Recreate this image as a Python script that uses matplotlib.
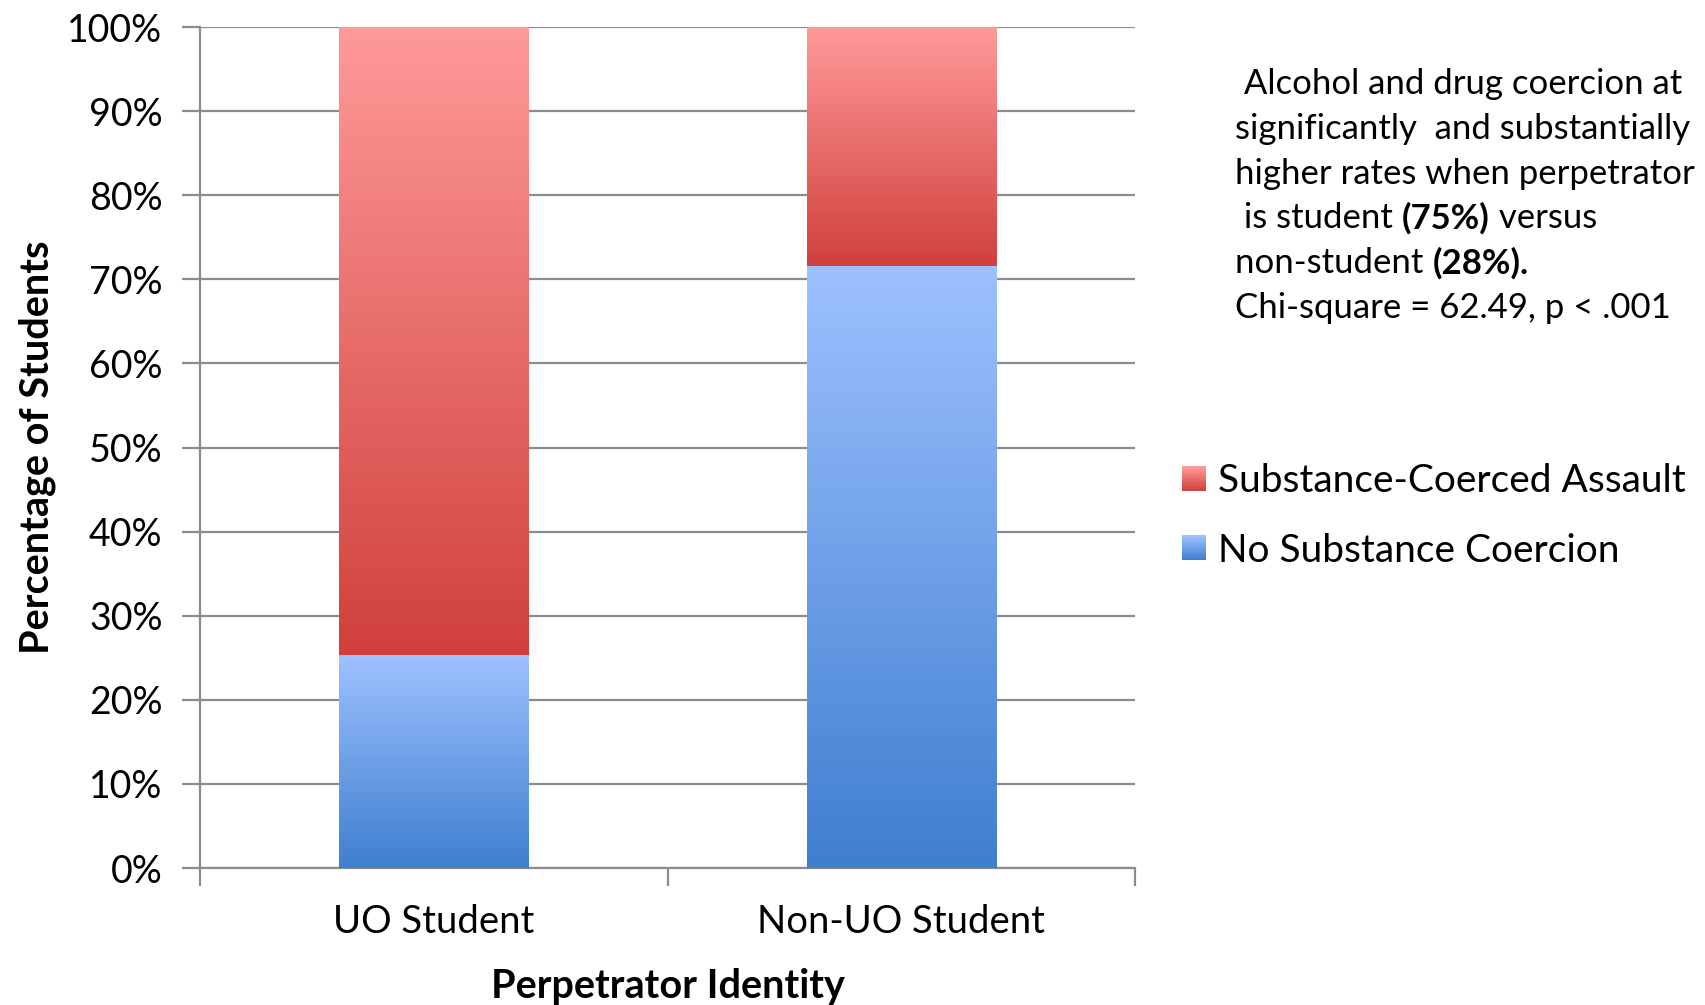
import numpy as np
import matplotlib
matplotlib.use("Agg")
import matplotlib.pyplot as plt
from matplotlib.colors import LinearSegmentedColormap
from matplotlib.legend_handler import HandlerBase
from matplotlib.patches import Rectangle

plt.rcParams['font.family'] = ['Lato', 'DejaVu Sans']

categories = ['UO Student', 'Non-UO Student']
no_coercion = [25.3, 71.6]
coerced = [74.7, 28.4]
series_names = ['Substance-Coerced Assault', 'No Substance Coercion']
yticks = [0, 10, 20, 30, 40, 50, 60, 70, 80, 90, 100]

red_cmap = LinearSegmentedColormap.from_list('red', ['#d0403c', '#ff9a99'])
blue_cmap = LinearSegmentedColormap.from_list('blue', ['#3f7fd0', '#9ec1ff'])


def fill_gradient(ax, bars, cmap):
    grad = np.linspace(0, 1, 256).reshape(-1, 1)
    for b in bars:
        x0, y0 = b.get_x(), b.get_y()
        ax.imshow(grad, cmap=cmap, origin='lower', aspect='auto',
                  extent=[x0, x0 + b.get_width(), y0, y0 + b.get_height()],
                  zorder=3, interpolation='bilinear')
        b.set_visible(False)


class GradientHandler(HandlerBase):
    def __init__(self, cmap):
        super().__init__()
        self.cmap = cmap

    def create_artists(self, legend, orig_handle, xdescent, ydescent,
                       width, height, fontsize, trans):
        n = 20
        side = width
        y0 = -ydescent + (height - side) / 2
        out = []
        for i in range(n):
            r = Rectangle((-xdescent, y0 + side * i / n), side, side / n + 0.3,
                          facecolor=self.cmap(i / (n - 1)), edgecolor='none', transform=trans)
            out.append(r)
        return out


fig = plt.figure(figsize=(17.05, 10.05), dpi=100)
ax = fig.add_axes([0.1173, 0.1363, 0.5484, 0.8368])

x = np.arange(len(categories))
width = 0.405
b1 = ax.bar(x, no_coercion, width, color='#6b9be0', label=series_names[1])
b2 = ax.bar(x, coerced, width, bottom=no_coercion, color='#e06a68', label=series_names[0])
fill_gradient(ax, b1, blue_cmap)
fill_gradient(ax, b2, red_cmap)

ax.set_xlim(-0.5, 1.5)
ax.set_ylim(0, 100)
ax.set_yticks(yticks)
ax.set_yticklabels([f'{t}%' for t in yticks])
ax.yaxis.grid(True, color='#8c8c8c', linewidth=1.6, zorder=0)
ax.set_axisbelow(True)

ax.set_xticks([-0.5, 0.5, 1.5])
ax.set_xticklabels([])
ax.set_xticks(x, minor=True)
ax.set_xticklabels(categories, minor=True)
ax.tick_params(axis='x', which='minor', length=0, pad=26, labelsize=27.5)
ax.tick_params(axis='x', which='major', length=13, width=1.6, color='#8c8c8c')
ax.tick_params(axis='y', length=13, width=1.6, color='#8c8c8c', labelsize=27, pad=14)

for s in ['top', 'right']:
    ax.spines[s].set_visible(False)
for s in ['left', 'bottom']:
    ax.spines[s].set_color('#8c8c8c')
    ax.spines[s].set_linewidth(1.6)

ax.set_xlabel('Perpetrator Identity', fontsize=28.5, fontweight='bold', labelpad=20)
ax.set_ylabel('Percentage of Students', fontsize=28.5, fontweight='bold', labelpad=8)

# note text, with bold parts chained after the plain ones
lines = [
    [(' Alcohol and drug coercion at', 'normal')],
    [('significantly  and substantially', 'normal')],
    [('higher rates when perpetrator', 'normal')],
    [(' is student ', 'normal'), ('(75%)', 'bold'), (' versus', 'normal')],
    [('non-student ', 'normal'), ('(28%).', 'bold')],
    [('Chi-square = 62.49, p < .001', 'normal')],
]
tx, ty, step = 1235 / 1705, 1 - 84 / 1005, 44.8 / 1005
for i, parts in enumerate(lines):
    prev = None
    for txt, wt in parts:
        if prev is None:
            prev = fig.text(tx, ty - i * step, txt, fontsize=25, fontweight=wt, va='center', ha='left')
        else:
            prev = ax.annotate(txt, xy=(1, 0), xycoords=prev, fontsize=25, fontweight=wt,
                               va='bottom', ha='left', annotation_clip=False)

handles = [b2, b1]
ax.legend(handles, series_names, loc='center left', bbox_to_anchor=(1182 / 1705, 1 - 516 / 1005),
          bbox_transform=fig.transFigure, frameon=False, fontsize=28,
          handler_map={b2: GradientHandler(red_cmap), b1: GradientHandler(blue_cmap)},
          handlelength=0.62, handletextpad=0.3, labelspacing=0.85, borderaxespad=0,
          borderpad=0)

fig.savefig('out.png', dpi=100)
